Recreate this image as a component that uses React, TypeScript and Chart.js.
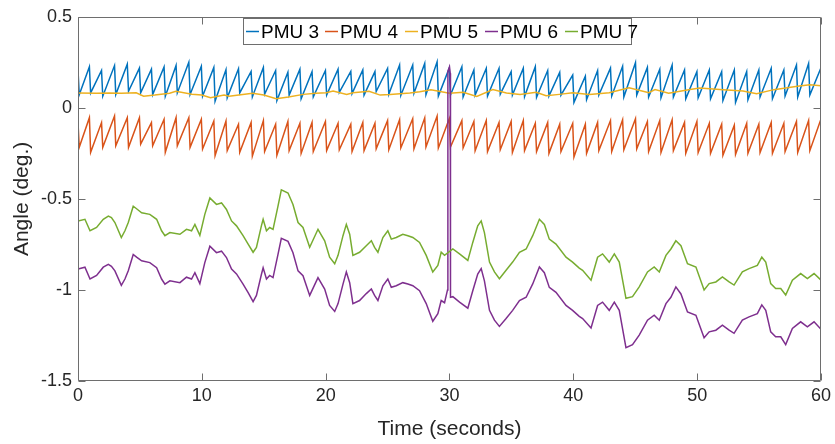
import React, { useEffect, useRef } from "react";
import { Chart, registerables } from "chart.js";

Chart.register(...registerables);

const FONT = "'Liberation Sans', Arial, Helvetica, sans-serif";

const seriesNames = ["PMU 3", "PMU 4", "PMU 5", "PMU 6", "PMU 7"];
const seriesColors = ["#0072BD", "#D95319", "#EDB120", "#7E2F8E", "#77AC30"];
const xTickValues = [0, 10, 20, 30, 40, 50, 60];
const yTickValues = [-1.5, -1, -0.5, 0, 0.5];

// Sawtooth (PMU 3 / PMU 4): times of each tooth peak and the trough right after it
const toothPeakT = [
  0.92, 1.9, 2.95, 3.98, 4.96, 5.93, 6.95, 7.92, 8.95, 9.96,
  10.97, 11.95, 12.96, 13.98, 14.97, 15.96, 16.95, 17.92, 18.9, 19.98,
  21.0, 22.03, 23.0, 23.98, 25.0, 25.97, 27.03, 28.0, 29.0, 29.98,
  31.0, 31.97, 32.97, 34.0, 34.98, 35.96, 36.93, 37.93, 38.9, 39.95,
  40.97, 41.96, 43.0, 43.98, 45.02, 45.98, 46.98, 47.98, 48.98, 49.98,
  50.98, 51.98, 53.0, 54.0, 54.98, 55.98, 57.0, 58.02, 59.0, 59.98,
];
const toothTroughT = [
  1.02, 2.0, 3.05, 4.08, 5.06, 6.03, 7.05, 8.02, 9.05, 10.06,
  11.07, 12.05, 13.06, 14.08, 15.07, 16.06, 17.05, 18.02, 19.0, 20.08,
  21.1, 22.13, 23.1, 24.08, 25.1, 26.07, 27.13, 28.1, 29.1, 30.08,
  31.1, 32.07, 33.07, 34.1, 35.08, 36.06, 37.03, 38.03, 39.0, 40.05,
  41.07, 42.06, 43.1, 44.08, 45.12, 46.08, 47.08, 48.08, 49.08, 50.08,
  51.08, 52.08, 53.1, 54.1, 55.08, 56.08, 57.1, 58.12, 59.1, 60.08,
];
const toothStartT = [0, 0.1];

const pmu3StartV = [0.208, 0.072];
const pmu3PeakV = [
  0.226, 0.205, 0.232, 0.24, 0.218, 0.212, 0.225, 0.233, 0.25, 0.228,
  0.222, 0.21, 0.215, 0.2, 0.222, 0.205, 0.195, 0.212, 0.198, 0.205,
  0.212, 0.2, 0.208, 0.199, 0.217, 0.235, 0.235, 0.244, 0.253, 0.218,
  0.226, 0.208, 0.217, 0.217, 0.199, 0.217, 0.226, 0.205, 0.195, 0.18,
  0.174, 0.205, 0.218, 0.228, 0.248, 0.222, 0.212, 0.235, 0.208, 0.199,
  0.208, 0.199, 0.208, 0.199, 0.208, 0.217, 0.208, 0.235, 0.244, 0.217,
];
const pmu3TroughV = [
  0.082, 0.064, 0.073, 0.091, 0.082, 0.073, 0.064, 0.082, 0.073, 0.064,
  0.037, 0.055, 0.082, 0.06, 0.075, 0.04, 0.07, 0.05, 0.06, 0.07,
  0.085, 0.078, 0.07, 0.09, 0.075, 0.068, 0.08, 0.072, 0.065, 0.07,
  0.06, 0.07, 0.065, 0.075, 0.07, 0.062, 0.058, 0.065, 0.07, 0.03,
  0.045, 0.07, 0.065, 0.06, 0.07, 0.06, 0.055, 0.06, 0.05, 0.055,
  0.05, 0.04, 0.03, 0.045, 0.06, 0.05, 0.065, 0.06, 0.07, 0.075,
];

const pmu4StartV = [-0.081, -0.217];
const pmu4PeakV = [
  -0.054, -0.081, -0.045, -0.054, -0.054, -0.081, -0.063, -0.054, -0.054, -0.063,
  -0.072, -0.072, -0.09, -0.08, -0.07, -0.09, -0.075, -0.085, -0.08, -0.075,
  -0.085, -0.09, -0.08, -0.085, -0.07, -0.065, -0.06, -0.055, -0.045, -0.06,
  -0.07, -0.075, -0.07, -0.08, -0.075, -0.07, -0.085, -0.08, -0.09, -0.085,
  -0.09, -0.08, -0.07, -0.065, -0.06, -0.075, -0.07, -0.065, -0.08, -0.075,
  -0.085, -0.09, -0.095, -0.085, -0.09, -0.08, -0.085, -0.075, -0.07, -0.065,
];
const pmu4TroughV = [
  -0.244, -0.217, -0.208, -0.217, -0.199, -0.208, -0.244, -0.208, -0.217, -0.226,
  -0.262, -0.235, -0.244, -0.265, -0.24, -0.26, -0.235, -0.25, -0.24, -0.235,
  -0.23, -0.24, -0.235, -0.225, -0.23, -0.22, -0.225, -0.215, -0.22, -0.215,
  -0.22, -0.235, -0.24, -0.23, -0.245, -0.235, -0.24, -0.25, -0.24, -0.27,
  -0.25, -0.235, -0.24, -0.23, -0.225, -0.24, -0.245, -0.235, -0.25, -0.245,
  -0.25, -0.26, -0.255, -0.25, -0.245, -0.25, -0.24, -0.245, -0.235, -0.22,
];

// PMU 5
const pmu5T = [
  0, 1.5, 2.5, 3.5, 4.7, 5.3, 6.2, 7.4, 7.9, 9.2, 10.0, 10.7, 11.8, 12.2, 13.3, 14.1,
  15.0, 16.0, 17.0, 18.2, 19.2, 20.05, 20.6, 21.7, 22.2, 23.5, 24.4, 25.2, 26.8,
  27.6, 28.5, 30.0, 31.1, 32.2, 33.5, 34.6, 35.7, 37.0, 37.8, 38.87, 39.95, 41.3,
  42.9, 44.5, 46.1, 46.6, 47.7, 49.3, 50.2, 52.1, 53.7, 54.8, 56.2, 58.1, 59.1, 60,
];
const pmu5V = [
  0.082, 0.08, 0.082, 0.08, 0.083, 0.064, 0.07, 0.08, 0.091, 0.075, 0.07, 0.055, 0.07, 0.064, 0.073, 0.08,
  0.07, 0.05, 0.06, 0.074, 0.08, 0.083, 0.092, 0.074, 0.083, 0.091, 0.07, 0.073, 0.082,
  0.088, 0.1, 0.08, 0.086, 0.062, 0.1, 0.082, 0.073, 0.085, 0.066, 0.074, 0.083, 0.074,
  0.083, 0.11, 0.083, 0.1, 0.08, 0.1, 0.109, 0.1, 0.092, 0.078, 0.1, 0.118, 0.127, 0.122,
];

// PMU 6
const pmu6T = [
  0, 0.56, 0.97, 1.5, 2.04, 2.45, 2.7, 2.98, 3.5, 3.79, 4.06, 4.46, 4.73, 5.14, 5.8,
  6.35, 6.75, 7.02, 7.42, 8.23, 8.76, 9.17, 9.44, 9.84, 10.24, 10.65, 11.18, 11.59,
  11.99, 12.4, 12.8, 13.33, 13.74, 14.14, 14.41, 14.81, 14.95, 15.22, 15.48, 15.75,
  16.15, 16.42, 16.96, 17.36, 17.77, 18.17, 18.71, 19.38, 19.92, 20.32, 20.73, 21.0,
  21.4, 21.67, 21.94, 22.2, 22.74, 23.28, 23.69, 23.95, 24.22, 24.62, 25.02, 25.3,
  25.7, 26.23, 26.64, 27.04, 27.58, 28.12, 28.65, 29.06, 29.33, 29.6, 29.84, 29.87,
  30.0, 30.06, 30.08, 30.27, 30.81, 31.48, 31.88, 32.28, 32.56, 32.82, 33.23, 33.63,
  34.03, 34.57, 35.1, 35.65, 36.19, 36.72, 37.26, 37.66, 38.06, 38.6, 39.41, 39.94,
  40.48, 40.75, 41.43, 41.96, 42.36, 42.9, 43.31, 43.71, 44.25, 44.78, 45.32, 45.99,
  46.53, 46.94, 47.48, 47.88, 48.28, 48.69, 49.22, 49.9, 50.56, 50.97, 51.51, 52.04,
  52.58, 52.98, 53.65, 54.19, 54.86, 55.22, 55.54, 55.94, 56.34, 56.75, 57.15, 57.69,
  58.36, 58.9, 59.44, 60,
];
const pmu6V = [
  -0.885, -0.875, -0.94, -0.92, -0.875, -0.86, -0.87, -0.895, -0.975, -0.94, -0.895, -0.805, -0.82, -0.84, -0.85,
  -0.878, -0.94, -0.968, -0.95, -0.96, -0.93, -0.94, -0.905, -0.965, -0.85, -0.76, -0.795, -0.787,
  -0.822, -0.885, -0.912, -0.968, -1.015, -1.064, -1.03, -0.915, -0.878, -0.94, -0.92, -0.932,
  -0.805, -0.717, -0.733, -0.796, -0.895, -0.922, -1.03, -0.932, -0.995, -1.085, -1.118, -1.075,
  -0.968, -0.901, -0.96, -1.075, -1.058, -1.02, -0.995, -1.03, -1.058, -0.977, -0.94, -0.985,
  -0.977, -0.96, -0.967, -0.977, -1.004, -1.075, -1.172, -1.13, -1.058, -1.07, -1.0, 0.2,
  0.225, 0.19, -1.04, -1.037, -1.067, -1.1, -1.004, -0.913, -0.883, -0.95, -1.112, -1.166,
  -1.2, -1.157, -1.112, -1.058, -1.04, -0.967, -0.874, -0.905, -0.986, -1.013, -1.085, -1.112,
  -1.145, -1.157, -1.209, -1.085, -1.067, -1.112, -1.067, -1.112, -1.317, -1.3, -1.248, -1.166,
  -1.139, -1.166, -1.075, -1.04, -0.983, -1.022, -1.121, -1.139, -1.263, -1.23, -1.221, -1.193,
  -1.221, -1.238, -1.166, -1.148, -1.13, -1.082, -1.112, -1.23, -1.257, -1.257, -1.3, -1.211,
  -1.175, -1.203, -1.175, -1.216,
];

// PMU 7
const pmu7T = [
  0, 0.56, 0.97, 1.5, 2.04, 2.45, 2.7, 2.98, 3.5, 3.79, 4.06, 4.46, 4.73, 5.14, 5.8,
  6.35, 6.75, 7.02, 7.42, 8.23, 8.76, 9.17, 9.44, 9.84, 10.24, 10.65, 11.18, 11.59,
  11.99, 12.4, 12.8, 13.33, 13.74, 14.14, 14.41, 14.81, 14.95, 15.22, 15.48, 15.75,
  16.15, 16.42, 16.96, 17.36, 17.77, 18.17, 18.71, 19.38, 19.92, 20.32, 20.73, 21.0,
  21.4, 21.67, 21.94, 22.2, 22.74, 23.28, 23.69, 23.95, 24.22, 24.62, 25.02, 25.3,
  25.7, 26.23, 26.64, 27.04, 27.58, 28.12, 28.65, 29.06, 29.33, 29.6, 30.27, 30.81,
  31.48, 31.88, 32.28, 32.56, 32.82, 33.23, 33.63, 34.03, 34.57, 35.1, 35.65, 36.19,
  36.72, 37.26, 37.66, 38.06, 38.6, 39.41, 39.94, 40.48, 40.75, 41.43, 41.96, 42.36,
  42.9, 43.31, 43.71, 44.25, 44.78, 45.32, 45.99, 46.53, 46.94, 47.48, 47.88, 48.28,
  48.69, 49.22, 49.9, 50.56, 50.97, 51.51, 52.04, 52.58, 52.98, 53.65, 54.19, 54.86,
  55.22, 55.54, 55.94, 56.34, 56.75, 57.15, 57.69, 58.36, 58.9, 59.44, 60,
];
const pmu7V = [
  -0.621, -0.612, -0.675, -0.657, -0.612, -0.594, -0.603, -0.63, -0.712, -0.675, -0.63, -0.54, -0.554, -0.576, -0.585,
  -0.612, -0.675, -0.702, -0.685, -0.694, -0.667, -0.675, -0.64, -0.7, -0.585, -0.495, -0.53, -0.522,
  -0.558, -0.621, -0.648, -0.702, -0.748, -0.793, -0.766, -0.648, -0.612, -0.675, -0.657, -0.667,
  -0.54, -0.45, -0.468, -0.531, -0.63, -0.657, -0.766, -0.667, -0.73, -0.82, -0.856, -0.81,
  -0.702, -0.64, -0.694, -0.81, -0.793, -0.757, -0.73, -0.766, -0.793, -0.712, -0.675, -0.721,
  -0.712, -0.694, -0.702, -0.712, -0.739, -0.81, -0.901, -0.865, -0.793, -0.81, -0.775, -0.802,
  -0.838, -0.739, -0.648, -0.621, -0.685, -0.847, -0.901, -0.938, -0.892, -0.847, -0.793, -0.775,
  -0.702, -0.612, -0.64, -0.721, -0.748, -0.82, -0.847, -0.88, -0.892, -0.946, -0.82, -0.802,
  -0.847, -0.802, -0.847, -1.046, -1.037, -0.983, -0.901, -0.874, -0.901, -0.81, -0.775, -0.73,
  -0.757, -0.856, -0.874, -1.0, -0.965, -0.956, -0.928, -0.956, -0.973, -0.901, -0.883, -0.865,
  -0.82, -0.847, -0.965, -0.992, -0.992, -1.028, -0.946, -0.91, -0.938, -0.91, -0.946,
];

function zip(ts: number[], vs: number[]) {
  return ts.map((t, i) => ({ x: t, y: vs[i] }));
}

function sawtooth(startV: number[], peakV: number[], troughV: number[]) {
  const pts = zip(toothStartT, startV);
  for (let k = 0; k < toothPeakT.length; k++) {
    pts.push({ x: toothPeakT[k], y: peakV[k] });
    pts.push({ x: toothTroughT[k], y: troughV[k] });
  }
  return pts;
}

const AXIS_COLOR = "#262626";
const FRAME_COLOR = "#6e6e6e";

const framePlugin = {
  id: "matlabFrame",
  afterDatasetsDraw(chart: any) {
    const { ctx, chartArea: a, scales } = chart;
    ctx.save();
    ctx.strokeStyle = FRAME_COLOR;
    ctx.lineWidth = 1;
    const L = Math.round(a.left) + 0.5;
    const R = Math.round(a.right) - 0.5;
    const T = Math.round(a.top) + 0.5;
    const B = Math.round(a.bottom) - 0.5;
    ctx.beginPath();
    ctx.rect(L, T, R - L, B - T);
    ctx.stroke();
    const tl = 7;
    ctx.beginPath();
    xTickValues.forEach((v) => {
      const px = Math.round(scales.x.getPixelForValue(v)) + 0.5;
      ctx.moveTo(px, B);
      ctx.lineTo(px, B - tl);
      ctx.moveTo(px, T);
      ctx.lineTo(px, T + tl);
    });
    yTickValues.forEach((v) => {
      const py = Math.round(scales.y.getPixelForValue(v)) + 0.5;
      ctx.moveTo(L, py);
      ctx.lineTo(L + tl, py);
      ctx.moveTo(R, py);
      ctx.lineTo(R - tl, py);
    });
    ctx.stroke();

    // legend box inside the axes
    const boxL = 243.5, boxT = 18.5, boxR = 631.5, boxB = 44.5;
    ctx.fillStyle = "#ffffff";
    ctx.fillRect(boxL, boxT, boxR - boxL, boxB - boxT);
    ctx.strokeStyle = FRAME_COLOR;
    ctx.strokeRect(boxL, boxT, boxR - boxL, boxB - boxT);
    const lineStarts = [246, 325, 405, 485, 565];
    const cy = (boxT + boxB) / 2;
    ctx.font = `19px ${FONT}`;
    ctx.textBaseline = "middle";
    ctx.textAlign = "left";
    seriesNames.forEach((name, i) => {
      const x0 = lineStarts[i];
      ctx.strokeStyle = seriesColors[i];
      ctx.lineWidth = 1.5;
      ctx.beginPath();
      ctx.moveTo(x0, cy);
      ctx.lineTo(x0 + 13, cy);
      ctx.stroke();
      ctx.fillStyle = "#000000";
      ctx.fillText(name, x0 + 15, cy + 1);
    });
    ctx.restore();
  },
};

export default function App() {
  const canvasRef = useRef<HTMLCanvasElement | null>(null);

  useEffect(() => {
    const canvas = canvasRef.current;
    if (!canvas) return;
    const allData = [
      sawtooth(pmu3StartV, pmu3PeakV, pmu3TroughV),
      sawtooth(pmu4StartV, pmu4PeakV, pmu4TroughV),
      zip(pmu5T, pmu5V),
      zip(pmu6T, pmu6V),
      zip(pmu7T, pmu7V),
    ];
    const datasets = allData.map((data, i) => ({
      label: seriesNames[i],
      data,
      borderColor: seriesColors[i],
      backgroundColor: seriesColors[i],
      borderWidth: 1.5,
      pointRadius: 0,
      tension: 0,
      fill: false,
      order: 5 - i,
    }));

    const chart = new Chart(canvas, {
      type: "line",
      data: { datasets },
      options: {
        animation: false,
        responsive: false,
        devicePixelRatio: 1,
        layout: { padding: { top: 12, right: 13, left: 0, bottom: 0 } },
        plugins: {
          legend: { display: false },
          tooltip: { enabled: false },
        },
        scales: {
          x: {
            type: "linear",
            min: 0,
            max: 60,
            afterFit: (s: any) => {
              s.height = 63;
            },
            afterBuildTicks: (s: any) => {
              s.ticks = xTickValues.map((v) => ({ value: v }));
            },
            ticks: {
              color: AXIS_COLOR,
              font: { family: FONT, size: 18 },
              padding: 4,
              maxRotation: 0,
              callback: (v: any) => String(v),
            },
            grid: { display: true, drawOnChartArea: false, drawTicks: false },
            border: { display: false },
            title: {
              display: true,
              text: "Time (seconds)",
              color: AXIS_COLOR,
              font: { family: FONT, size: 21 },
              padding: { top: 0, bottom: 2 },
            },
          },
          y: {
            type: "linear",
            min: -1.5,
            max: 0.5,
            afterFit: (s: any) => {
              s.width = 78;
            },
            afterBuildTicks: (s: any) => {
              s.ticks = yTickValues.map((v) => ({ value: v }));
            },
            ticks: {
              color: AXIS_COLOR,
              font: { family: FONT, size: 18 },
              padding: 6,
              callback: (v: any) => String(v),
            },
            grid: { display: true, drawOnChartArea: false, drawTicks: false },
            border: { display: false },
            title: {
              display: true,
              text: "Angle (deg.)",
              color: AXIS_COLOR,
              font: { family: FONT, size: 21 },
              padding: { top: 10, bottom: 0 },
            },
          },
        },
      },
      plugins: [framePlugin],
    });
    return () => chart.destroy();
  }, []);

  return (
    <div style={{ position: "absolute", left: 0, top: 0, width: 835, height: 444, background: "#ffffff" }}>
      <canvas ref={canvasRef} width={835} height={444} style={{ display: "block" }} />
    </div>
  );
}
